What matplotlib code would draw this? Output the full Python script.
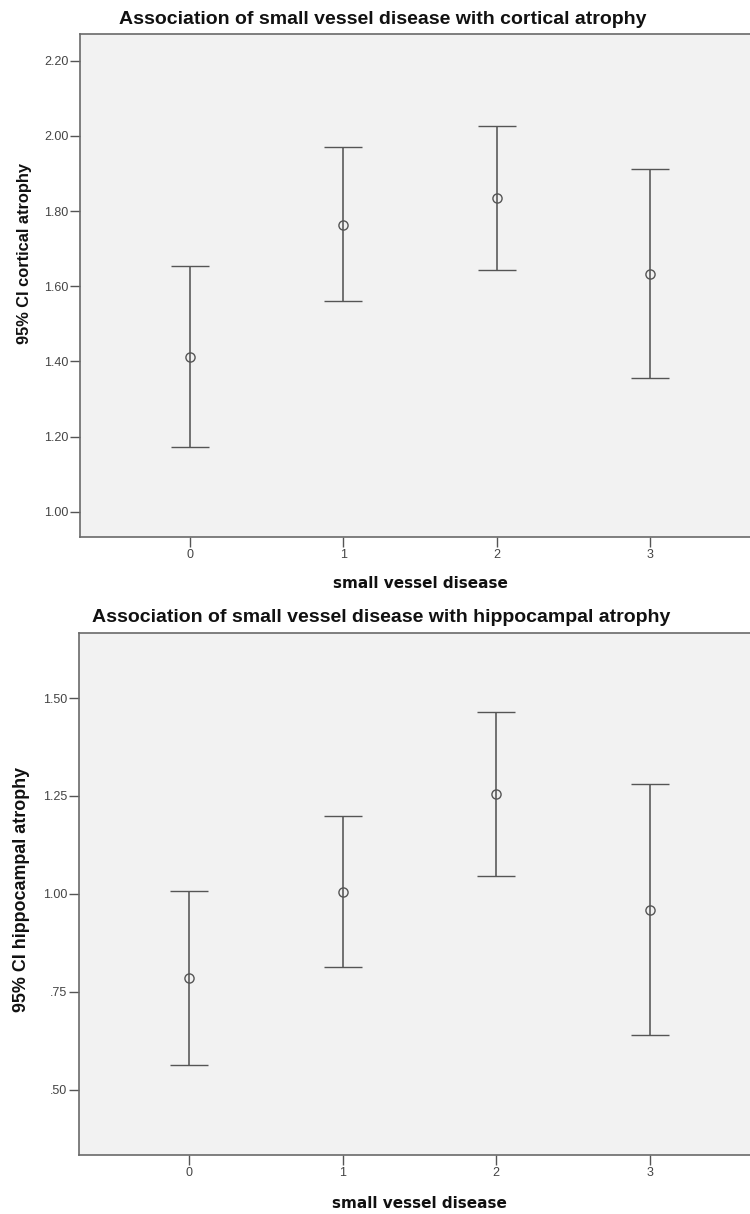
import numpy as np
import matplotlib.pyplot as plt

groups = [0, 1, 2, 3]

# cortical atrophy: mean and 95% CI bounds
cort_mean = [1.412, 1.763, 1.835, 1.633]
cort_low = [1.171, 1.561, 1.642, 1.355]
cort_high = [1.654, 1.971, 2.027, 1.913]
cort_ticks = [1.00, 1.20, 1.40, 1.60, 1.80, 2.00, 2.20]
cort_ticklabels = ["1.00", "1.20", "1.40", "1.60", "1.80", "2.00", "2.20"]

# hippocampal atrophy: mean and 95% CI bounds
hip_mean = [0.786, 1.006, 1.255, 0.958]
hip_low = [0.563, 0.813, 1.046, 0.639]
hip_high = [1.008, 1.198, 1.465, 1.281]
hip_ticks = [0.50, 0.75, 1.00, 1.25, 1.50]
hip_ticklabels = [".50", ".75", "1.00", "1.25", "1.50"]

plt.rcParams['font.family'] = ['Liberation Sans', 'DejaVu Sans']

fig = plt.figure(figsize=(7.5, 12.14), dpi=100)
ax1 = fig.add_axes([0.1067, 0.5577, 0.8933, 0.4143])
ax2 = fig.add_axes([0.1053, 0.0484, 0.8947, 0.4305])

line_col = '#555555'
spine_col = '#6a6a6a'


def draw_panel(ax, mean, low, high, ticks, ticklabels, ylim, xlim):
    mean = np.array(mean)
    err = [mean - np.array(low), np.array(high) - mean]
    ax.errorbar(groups, mean, yerr=err, fmt='o', color=line_col,
                ecolor=line_col, elinewidth=1.15, capsize=13.6, capthick=1.15,
                markersize=6.6, markerfacecolor='none', markeredgecolor=line_col,
                markeredgewidth=1.0)
    ax.set_facecolor('#f2f2f2')
    ax.set_xlim(*xlim)
    ax.set_ylim(*ylim)
    ax.set_xticks(groups)
    ax.set_xticklabels([str(g) for g in groups])
    ax.set_yticks(ticks)
    ax.set_yticklabels(ticklabels)
    ax.spines['right'].set_visible(False)
    for s in ['left', 'bottom', 'top']:
        ax.spines[s].set_color(spine_col)
        ax.spines[s].set_linewidth(1.2)
    ax.tick_params(axis='both', length=7, width=1.0, color='#555555',
                   labelsize=9, labelcolor='#444444', pad=1.5)


draw_panel(ax1, cort_mean, cort_low, cort_high, cort_ticks, cort_ticklabels,
           (0.933, 2.271), (-0.717, 3.652))
draw_panel(ax2, hip_mean, hip_low, hip_high, hip_ticks, hip_ticklabels,
           (0.333, 1.667), (-0.716, 3.653))

fig.text(383 / 750, 1 - 19 / 1214, 'Association of small vessel disease with cortical atrophy',
         ha='center', va='center', fontsize=14, fontweight='bold', color='#111111')
fig.text(381 / 750, 1 - 617 / 1214, 'Association of small vessel disease with hippocampal atrophy',
         ha='center', va='center', fontsize=14, fontweight='bold', color='#111111')

fig.text(420 / 750, 1 - 584 / 1214, 'small vessel disease', ha='center', va='center',
         fontsize=11, fontweight='bold', color='#111111', family='DejaVu Sans')
fig.text(419.5 / 750, 1 - 1203 / 1214, 'small vessel disease', ha='center', va='center',
         fontsize=11, fontweight='bold', color='#111111', family='DejaVu Sans')

fig.text(25 / 750, 1 - 253 / 1214, '95% CI cortical atrophy', ha='center', va='center',
         rotation=90, fontsize=11.8, fontweight='bold', color='#111111')
fig.text(22 / 750, 1 - 889 / 1214, '95% CI hippocampal atrophy', ha='center', va='center',
         rotation=90, fontsize=12.9, fontweight='bold', color='#111111')

fig.savefig('out.png', dpi=100, facecolor='white')
